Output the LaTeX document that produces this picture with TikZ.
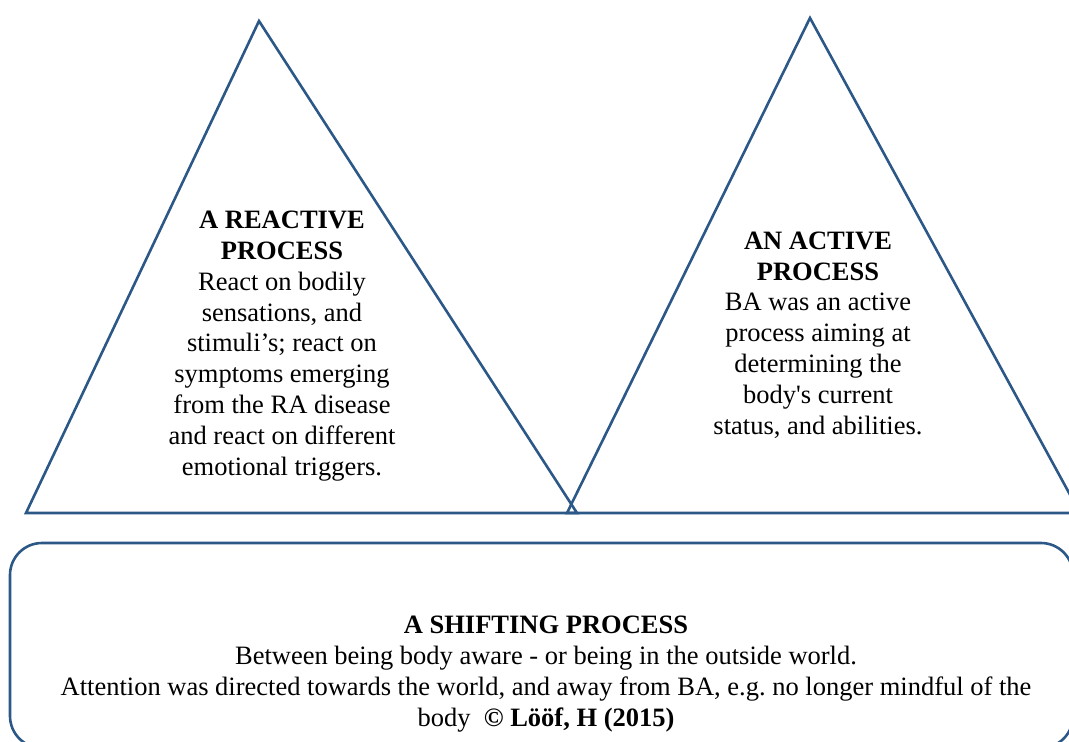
\documentclass[tikz,border=0pt]{standalone}
\usepackage{fontspec}
\setmainfont{Liberation Serif}
\definecolor{edgeblue}{RGB}{44,88,135}

\begin{document}
\begin{tikzpicture}[x=1pt,y=-1pt,
	outline/.style={draw=edgeblue, line width=2.6pt},
	body/.style={align=center, font=\fontsize{26.5}{30.8}\selectfont}]
	\useasboundingbox (0,0) rectangle (1069,742);
	\clip (0,0) rectangle (1069,742);
	% the two triangles and the box below them
	\draw [outline] (259,21) -- (577,513) -- (26,513) -- cycle;
	\draw [outline] (810,18) -- (1080,513) -- (567,513) -- cycle;
	\draw [outline, rounded corners=32pt] (10,543) rectangle (1073,748);
	\node [body] (reactive) at (282,346) {\textbf{A REACTIVE}\\\textbf{PROCESS}\\React on bodily\\sensations, and\\stimuli’s; react on\\symptoms emerging\\from the RA disease\\and react on different\\emotional triggers.};
	\node [body] (active) at (818,335) {\textbf{AN ACTIVE}\\\textbf{PROCESS}\\BA was an active\\process aiming at\\determining the\\body\textquotesingle s current\\status, and abilities.};
	\node [body] (shifting) at (546,674) {\textbf{A SHIFTING PROCESS}\\Between being body aware - or being in the outside world.\\Attention was directed towards the world, and away from BA, e.g.\ no longer mindful of the\\body\ \ \textbf{© Lööf, H (2015)}};
\end{tikzpicture}
\end{document}
